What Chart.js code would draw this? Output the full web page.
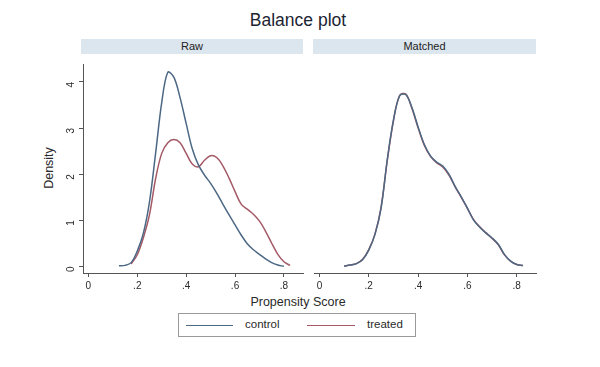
<!DOCTYPE html>
<html>
<head>
<meta charset="utf-8">
<script src="https://cdn.jsdelivr.net/npm/chart.js@4.4.1/dist/chart.umd.min.js"></script>
<style>
  body { margin: 0; background: #fff; font-family: "Liberation Sans", Arial, sans-serif; }
  #wrap { position: relative; width: 600px; height: 367px; overflow: hidden; }
  canvas { position: absolute; }
  .txt { position: absolute; color: #2a2a2a; white-space: nowrap; }
  .strip { position: absolute; background: #dce6ee; height: 15px; font-size: 11px; line-height: 15px; text-align: center; color: #222; z-index: 2; }
  .legend { position: absolute; left: 178px; top: 313px; width: 236px; height: 22px; border: 1px solid #9a9a9a; font-size: 11.5px; color: #2a2a2a; }
  .legend span { position: absolute; top: 4px; }
  .legend i { position: absolute; top: 11px; height: 0; border-top: 1.5px solid; }
</style>
</head>
<body>
<div id="wrap">
  <div class="txt" style="left:0;width:596px;top:10px;text-align:center;font-size:17.5px;color:#1c2433">Balance plot</div>
  <div class="strip" style="left:81px;top:39px;width:222px">Raw</div>
  <div class="strip" style="left:313px;top:39px;width:223px">Matched</div>
  <div class="txt" style="left:19px;top:161px;font-size:12.5px;transform:rotate(-90deg);transform-origin:center;width:60px;text-align:center">Density</div>
  <div class="txt" style="left:198px;width:200px;top:295px;text-align:center;font-size:12.5px">Propensity Score</div>
  <canvas id="rawChart" width="306" height="250" style="left:0;top:50px"></canvas>
  <canvas id="matchedChart" width="230" height="250" style="left:310px;top:50px"></canvas>
  <div class="legend">
    <i style="left:7px;width:47px;border-color:#4c6884"></i><span style="left:66px">control</span>
    <i style="left:128px;width:48px;border-color:#a45a66"></i><span style="left:188px">treated</span>
  </div>
</div>
<script>
// ===============================
// DATA
// ===============================
const scoreGrid = [0.100, 0.125, 0.150, 0.175, 0.200, 0.225, 0.250, 0.275, 0.300, 0.325,
                   0.350, 0.375, 0.400, 0.425, 0.450, 0.475, 0.500, 0.525, 0.550, 0.575,
                   0.600, 0.625, 0.650, 0.675, 0.700, 0.725, 0.750, 0.775, 0.800, 0.825, 0.850]

const rawControl = [null, 0.01, 0.02, 0.08, 0.33, 0.72, 1.40, 2.45, 3.55, 4.21,
                    4.10, 3.66, 3.10, 2.55, 2.20, 1.98, 1.80, 1.59, 1.35, 1.12,
                    0.90, 0.68, 0.49, 0.36, 0.26, 0.16, 0.08, 0.03, 0.00, null, null]

const rawTreated = [null, null, null, 0.05, 0.25, 0.62, 1.12, 1.90, 2.45, 2.68,
                    2.75, 2.68, 2.45, 2.22, 2.16, 2.30, 2.40, 2.36, 2.18, 1.92,
                    1.62, 1.35, 1.24, 1.13, 0.98, 0.76, 0.50, 0.26, 0.10, 0.02, null]

const matchedControl = [0.00, 0.02, 0.05, 0.13, 0.33, 0.65, 1.20, 2.20, 3.02, 3.52,
                        3.55, 3.28, 2.88, 2.52, 2.28, 2.15, 2.07, 1.90, 1.65, 1.43,
                        1.20, 0.95, 0.80, 0.68, 0.58, 0.45, 0.24, 0.10, 0.03, 0.01, null]

const matchedTreated = [0.00, 0.02, 0.05, 0.14, 0.34, 0.66, 1.22, 2.18, 3.00, 3.53,
                        3.56, 3.26, 2.86, 2.50, 2.27, 2.14, 2.05, 1.88, 1.64, 1.42,
                        1.19, 0.96, 0.81, 0.69, 0.57, 0.44, 0.23, 0.10, 0.03, 0.01, null]

const xTickValues = [0, 0.2, 0.4, 0.6, 0.8]
const yTickValues = [0, 1, 2, 3, 4]

const CONTROL_COLOR = "#4c6884"
const TREATED_COLOR = "#a45a66"

// ===============================
// HELPERS
// ===============================
function toPoints(values) {
  return scoreGrid.map((x, i) => ({ x: x, y: values[i] }))
}

function fmtScore(v) {
  if (v === 0) return "0"
  return String(Number(v.toFixed(1))).replace(/^0/, "")
}

function makeDataset(label, values, color) {
  return {
    label: label,
    data: toPoints(values),
    borderColor: color,
    borderWidth: 1.5,
    pointRadius: 0,
    fill: false,
    spanGaps: false,
    tension: 0.35
  }
}

function buildOptions(showY, padding) {
  return {
    responsive: false,
    animation: false,
    layout: { padding: padding },
    plugins: { legend: { display: false }, tooltip: { enabled: false } },
    scales: {
      x: {
        type: "linear",
        min: -0.022,
        max: 0.878,
        afterBuildTicks: s => { s.ticks = xTickValues.map(v => ({ value: v })) },
        afterFit: s => { s.height = 27 },
        border: { display: true, color: "#555", width: 1 },
        grid: { drawOnChartArea: false, tickLength: 4, color: "#555" },
        ticks: {
          callback: v => fmtScore(v),
          font: { size: 10, family: "Liberation Sans" },
          color: "#2a2a2a",
          padding: 3,
          maxRotation: 0
        }
      },
      y: {
        display: showY,
        min: -0.145,
        max: 4.389,
        afterBuildTicks: s => { s.ticks = yTickValues.map(v => ({ value: v })) },
        afterFit: s => { s.width = showY ? 83 : 0 },
        border: { display: true, color: "#555", width: 1 },
        grid: { drawOnChartArea: false, tickLength: 4, color: "#555" },
        ticks: {
          font: { size: 10, family: "Liberation Sans" },
          color: "#2a2a2a",
          minRotation: 90,
          maxRotation: 90,
          padding: 8
        }
      }
    }
  }
}

// ===============================
// CHARTS
// ===============================
new Chart(document.getElementById("rawChart"), {
  type: "line",
  data: {
    datasets: [
      makeDataset("control", rawControl, CONTROL_COLOR),
      makeDataset("treated", rawTreated, TREATED_COLOR)
    ]
  },
  options: buildOptions(true, { top: 4, right: 3, left: 0, bottom: 0 })
})

new Chart(document.getElementById("matchedChart"), {
  type: "line",
  data: {
    datasets: [
      makeDataset("control", matchedControl, CONTROL_COLOR),
      makeDataset("treated", matchedTreated, TREATED_COLOR)
    ]
  },
  options: buildOptions(false, { top: 4, right: 4, left: 4, bottom: 0 })
})
</script>
</body>
</html>
